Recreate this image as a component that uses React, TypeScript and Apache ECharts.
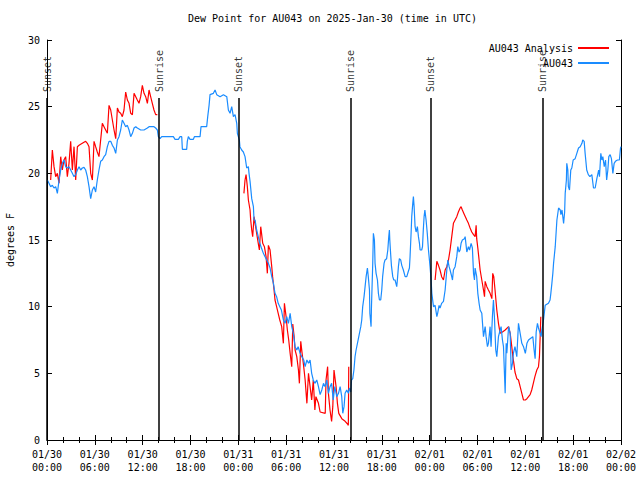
import React, { useEffect, useRef } from 'react';
import * as echarts from 'echarts';

const chartTitle = 'Dew Point for AU043 on 2025-Jan-30 (time in UTC)';
const yAxisName = 'degrees F';
const analysisName = 'AU043 Analysis';
const observedName = 'AU043';
const startUtc = Date.UTC(2025, 0, 30, 0, 0);

// Sunset / sunrise markers, hours since 01/30 00:00 UTC
const eventHours = [0.02, 14.06, 24.08, 38.12, 48.16, 62.14];
const eventNames = ['Sunset', 'Sunrise', 'Sunset', 'Sunrise', 'Sunset', 'Sunrise'];
const eventLineTop = 25.65;
const eventLabelBase = 26.1;

// AU043 Analysis (red), three night-time segments: [hour, dew point F]
const analysisNight1 = [
  [0.46, 19.5], [0.67, 21.75], [0.88, 20.5], [1.09, 19.75], [1.3, 20.0], [1.51, 19.25], [1.72, 21.25],
  [1.92, 20.25], [2.13, 21.0], [2.34, 21.25], [2.55, 19.75], [2.76, 20.75], [2.97, 22.4], [3.18, 20.25],
  [3.39, 22.0], [3.6, 19.5], [3.81, 22.0], [4.02, 22.1], [4.43, 22.25], [4.85, 22.4], [5.06, 22.25],
  [5.27, 22.0], [5.48, 20.0], [5.69, 19.5], [5.9, 22.4], [6.1, 22.0], [6.31, 21.6], [6.52, 21.25],
  [6.73, 22.5], [6.94, 23.75], [7.15, 23.5], [7.36, 23.25], [7.57, 23.0], [7.78, 25.1], [7.99, 24.75],
  [8.2, 24.0], [8.41, 23.25], [8.62, 22.6], [8.83, 24.9], [9.03, 24.6], [9.24, 24.5], [9.45, 24.25],
  [9.66, 24.75], [9.87, 26.1], [10.08, 25.5], [10.29, 25.25], [10.5, 24.5], [10.71, 24.4], [10.92, 26.0],
  [11.13, 25.75], [11.33, 25.5], [11.54, 25.25], [11.75, 25.75], [11.96, 26.6], [12.17, 26.0],
  [12.38, 25.75], [12.59, 25.25], [12.8, 26.25], [13.0, 25.75], [13.21, 25.25], [13.42, 24.75],
  [13.63, 24.4], [13.84, 24.4],
];
const analysisNight2 = [
  [24.7, 18.5], [24.84, 19.5], [24.97, 19.9], [25.13, 19.0], [25.26, 18.0], [25.47, 17.25], [25.55, 16.5],
  [25.68, 15.75], [25.8, 15.25], [25.97, 16.75], [26.1, 16.25], [26.3, 15.5], [26.5, 14.75], [26.64, 14.25],
  [26.81, 16.0], [26.93, 15.4], [27.06, 14.75], [27.27, 14.5], [27.48, 13.75], [27.64, 12.5], [27.77, 14.6],
  [27.98, 14.25], [28.19, 13.0], [28.3, 12.25], [28.48, 11.25], [28.6, 10.5], [28.8, 10.0], [29.0, 9.5],
  [29.2, 9.0], [29.44, 8.5], [29.65, 7.25], [29.78, 10.25], [29.99, 9.25], [30.15, 8.25], [30.32, 7.5],
  [30.5, 6.5], [30.7, 5.5], [30.83, 8.7], [31.0, 7.75], [31.12, 6.75], [31.33, 6.25], [31.54, 5.25],
  [31.66, 4.25], [31.83, 7.4], [32.0, 6.5], [32.2, 5.5], [32.38, 4.5], [32.6, 2.75], [32.8, 5.0],
  [33.0, 4.0], [33.2, 3.0], [33.4, 4.5], [33.6, 2.25], [33.73, 3.25], [34.05, 2.75], [34.26, 2.1],
  [34.9, 2.0], [35.0, 4.5], [35.2, 5.5], [35.3, 3.5], [35.5, 2.25], [35.7, 1.4], [35.85, 2.5], [36.0, 5.25],
  [36.26, 4.0], [36.43, 2.75], [36.6, 2.0], [36.98, 1.6], [37.4, 1.4], [37.7, 1.2], [37.8, 1.1], [37.85, 5.5],
];
const analysisNight3 = [
  [48.68, 12.0], [48.9, 13.4], [49.1, 13.1], [49.3, 12.75], [49.5, 12.25], [49.73, 12.0], [49.94, 12.75],
  [50.15, 13.0], [50.36, 13.5], [50.56, 14.25], [50.77, 15.25], [50.98, 16.25], [51.19, 16.5], [51.4, 16.75],
  [51.6, 17.1], [51.82, 17.4], [51.94, 17.5], [52.1, 17.25], [52.36, 16.9], [52.66, 16.5], [52.86, 16.25],
  [53.07, 15.9], [53.28, 15.6], [53.5, 15.4], [53.7, 15.25], [53.83, 16.1], [53.9, 15.1], [54.04, 14.4],
  [54.2, 13.5], [54.33, 12.75], [54.54, 12.0], [54.75, 11.25], [54.88, 10.75], [54.96, 11.9], [55.17, 11.5],
  [55.37, 11.25], [55.58, 11.0], [55.8, 10.6], [55.91, 12.5], [56.04, 12.25], [56.2, 11.25], [56.42, 9.75],
  [56.63, 8.75], [56.84, 8.0], [57.13, 8.1], [57.47, 8.25], [57.9, 8.5], [58.1, 8.0], [58.3, 7.0],
  [58.43, 6.25], [58.56, 5.75], [58.7, 5.1], [58.93, 4.6], [59.14, 4.5], [59.35, 4.0], [59.56, 3.5],
  [59.77, 3.0], [60.0, 3.0], [60.2, 3.1], [60.4, 3.25], [60.6, 3.4], [60.8, 3.75], [61.0, 4.25], [61.2, 4.75],
  [61.44, 5.25], [61.65, 5.5], [61.77, 6.25], [61.86, 7.75], [61.94, 9.25],
];

// AU043 observed (blue): [hour, dew point F]
const observedDay1 = [
  [0.04, 19.5], [0.25, 19.25], [0.46, 19.0], [0.67, 19.1], [0.88, 18.9], [1.09, 19.0], [1.3, 18.5],
  [1.51, 19.5], [1.72, 20.25], [1.92, 20.75], [2.13, 21.0], [2.34, 20.5], [2.55, 20.4], [2.76, 20.5],
  [2.97, 20.25], [3.18, 20.0], [3.39, 19.75], [3.6, 19.9], [3.81, 20.25], [4.02, 20.5], [4.22, 20.25],
  [4.43, 20.4], [4.64, 20.45], [4.85, 20.25], [5.06, 19.75], [5.27, 19.0], [5.48, 18.1], [5.69, 18.75],
  [5.9, 19.0], [6.1, 18.6], [6.31, 19.5], [6.52, 20.25], [6.73, 20.9], [6.94, 21.0], [7.15, 21.25],
  [7.36, 21.4], [7.57, 22.0], [7.78, 22.4], [7.99, 22.4], [8.2, 22.1], [8.41, 21.9], [8.62, 21.5],
  [8.83, 22.5], [9.03, 22.75], [9.24, 23.25], [9.45, 24.0], [9.66, 23.75], [9.87, 23.5], [10.08, 23.6],
  [10.29, 23.25], [10.5, 22.75], [10.71, 23.0], [10.92, 23.4], [11.13, 23.5], [11.33, 23.4], [11.75, 23.25],
  [12.17, 23.25], [12.59, 23.4], [12.8, 23.5], [13.0, 23.5], [13.42, 23.5], [13.63, 23.4], [13.84, 23.25],
  [13.97, 22.75], [14.18, 22.6], [14.39, 22.75], [15.23, 22.75], [15.85, 22.75], [16.06, 22.55],
  [16.48, 22.55], [16.69, 22.75], [16.9, 22.75], [16.98, 21.8], [17.52, 21.8], [17.6, 22.4], [17.73, 22.75],
  [17.94, 22.55], [18.36, 22.55], [18.49, 22.75], [19.2, 22.75], [19.32, 23.5], [20.03, 23.5],
  [20.16, 24.25], [20.33, 25.1], [20.45, 25.9], [20.87, 26.0], [21.08, 26.25], [21.29, 25.9],
  [21.71, 25.75], [22.13, 25.9], [22.55, 25.75], [22.75, 24.75], [22.96, 24.5], [23.17, 25.0],
  [23.38, 24.25], [23.59, 24.4], [23.8, 23.75],
];
const observedDay2 = [
  [23.88, 23.0], [24.13, 22.5], [24.2, 22.0], [24.42, 21.75], [24.63, 21.6], [24.84, 21.25], [25.05, 20.4],
  [25.26, 20.5], [25.34, 20.0], [25.47, 19.4], [25.68, 18.1], [25.89, 17.5], [25.97, 16.5], [26.1, 16.5],
  [26.3, 15.75], [26.5, 15.25], [26.7, 14.75], [26.9, 14.4], [27.14, 14.0], [27.35, 13.75], [27.56, 13.5],
  [27.77, 13.25], [27.98, 12.9], [28.19, 12.25], [28.4, 11.75], [28.6, 11.0], [28.8, 10.75], [29.0, 10.25],
  [29.2, 10.0], [29.4, 9.75], [29.65, 9.0], [29.86, 8.75], [30.07, 9.25], [30.28, 8.75], [30.5, 9.5],
  [30.7, 8.5], [30.9, 8.0], [31.12, 7.0], [31.33, 6.75], [31.5, 7.0], [31.75, 6.5], [31.96, 6.25],
  [32.2, 6.0], [32.38, 5.5], [32.6, 6.0], [32.8, 5.75], [33.0, 6.0], [33.2, 5.0], [33.4, 4.5], [33.6, 4.25],
  [33.84, 4.5], [34.05, 4.0], [34.26, 3.4], [34.47, 3.75], [34.68, 4.25], [34.89, 4.0], [35.1, 4.5],
  [35.3, 3.5], [35.5, 4.0], [35.7, 4.25], [35.9, 3.0], [36.1, 4.0], [36.35, 3.25], [36.56, 3.5],
  [36.77, 4.0], [36.97, 3.25], [37.1, 2.0], [37.26, 2.5], [37.39, 3.5], [37.6, 3.75], [37.8, 3.5],
  [37.93, 3.9], [38.1, 3.6], [38.2, 4.5], [38.35, 4.6], [38.5, 5.25], [38.64, 6.25], [38.77, 6.75],
  [38.94, 7.25], [39.06, 7.6], [39.19, 8.0], [39.36, 8.5], [39.48, 9.0], [39.6, 10.0], [39.77, 10.75],
  [39.9, 11.5], [40.03, 12.25], [40.19, 12.9], [40.3, 12.25], [40.45, 11.25], [40.5, 9.5], [40.65, 8.5],
  [40.7, 10.0], [40.86, 13.25], [40.94, 15.5], [41.07, 15.0], [41.15, 13.25], [41.28, 12.5], [41.45, 12.0],
  [41.57, 11.0], [41.7, 10.5], [41.86, 10.5], [41.99, 11.25], [42.1, 12.25], [42.28, 13.25], [42.4, 13.5],
  [42.6, 13.6], [42.75, 14.25], [42.87, 15.25], [42.95, 15.75], [43.0, 15.0], [43.1, 14.0], [43.2, 13.1],
  [43.37, 12.25], [43.5, 12.0], [43.66, 12.0], [43.87, 11.5], [43.95, 12.0], [44.08, 13.0], [44.2, 13.6],
  [44.37, 13.5], [44.5, 13.1], [44.7, 12.75], [44.92, 12.25], [45.13, 12.25], [45.3, 12.6], [45.46, 12.9],
  [45.54, 13.75], [45.67, 15.5], [45.75, 16.75], [45.88, 17.75], [45.96, 18.25], [46.05, 17.5],
  [46.17, 16.0], [46.3, 15.6], [46.46, 16.0], [46.59, 15.25], [46.72, 14.75], [46.8, 14.25], [47.0, 14.25],
  [47.1, 14.5], [47.2, 15.75], [47.3, 16.75], [47.4, 17.25], [47.55, 16.5], [47.7, 15.5], [47.85, 14.25],
];
const observedDay3 = [
  [48.05, 13.0], [48.18, 12.0], [48.27, 11.0], [48.48, 10.0], [48.68, 10.1], [48.9, 9.25], [49.0, 9.5],
  [49.18, 10.1], [49.3, 9.9], [49.5, 10.25], [49.73, 10.4], [49.94, 11.25], [50.15, 12.75], [50.28, 13.5],
  [50.44, 13.0], [50.56, 12.75], [50.77, 12.25], [50.86, 12.0], [50.98, 12.75], [51.19, 13.0], [51.4, 13.75],
  [51.53, 14.5], [51.69, 14.1], [51.82, 14.25], [51.94, 14.75], [52.1, 15.0], [52.36, 15.1], [52.45, 15.25],
  [52.66, 14.1], [52.86, 14.5], [53.0, 14.25], [53.2, 14.75], [53.36, 14.4], [53.5, 12.5], [53.62, 12.0],
  [53.7, 12.9], [53.9, 12.25], [54.04, 11.0], [54.2, 10.25], [54.33, 9.75], [54.54, 9.5], [54.75, 7.75],
  [54.96, 8.5], [55.08, 7.75], [55.25, 7.0], [55.37, 7.25], [55.58, 8.5], [55.7, 7.0], [55.87, 9.25],
  [56.0, 10.5], [56.12, 9.25], [56.29, 6.75], [56.42, 6.25], [56.63, 7.75], [56.84, 8.25], [56.96, 8.5],
  [57.13, 7.5], [57.26, 7.0], [57.47, 3.5], [57.6, 7.25], [57.68, 6.5], [57.9, 8.5], [58.1, 8.0],
  [58.22, 5.25], [58.39, 5.75], [58.5, 6.5], [58.7, 7.0], [58.93, 6.25], [59.14, 8.75], [59.35, 8.0],
  [59.56, 7.25], [59.77, 7.0], [60.0, 6.5], [60.2, 7.25], [60.4, 7.5], [60.6, 7.6], [60.94, 7.75],
  [61.1, 6.75], [61.23, 6.1], [61.36, 8.1], [61.52, 8.75], [61.65, 8.4], [61.86, 8.0], [61.98, 7.75],
  [62.07, 8.25], [62.28, 9.0], [62.49, 10.1], [62.9, 10.25], [63.1, 10.5], [63.2, 11.0], [63.33, 11.75],
  [63.45, 12.5], [63.54, 13.25], [63.75, 14.5], [63.96, 16.5], [64.17, 17.4], [64.38, 17.25], [64.46, 16.9],
  [64.6, 17.25], [64.7, 16.75], [64.8, 16.25], [64.93, 17.1], [65.0, 18.5], [65.15, 19.5], [65.2, 20.75],
  [65.33, 20.25], [65.4, 19.0], [65.54, 18.75], [65.7, 20.25], [65.83, 20.4], [66.0, 21.0], [66.25, 21.1],
  [66.46, 21.5], [66.67, 21.9], [66.88, 22.0], [67.1, 22.25], [67.2, 22.5], [67.38, 22.4], [67.5, 21.5],
  [67.7, 20.25], [67.9, 19.9], [68.1, 19.75], [68.34, 19.9], [68.55, 18.9], [68.76, 18.9], [68.97, 19.6],
  [69.2, 20.25], [69.3, 19.75], [69.47, 21.5], [69.6, 21.0], [69.72, 21.25], [69.9, 20.5], [70.06, 21.0],
  [70.2, 19.5], [70.35, 20.25], [70.47, 21.25], [70.64, 21.4], [70.8, 21.1], [70.98, 20.0], [71.14, 20.75],
  [71.3, 20.9], [71.56, 21.0], [71.8, 21.0], [71.94, 21.9], [72.0, 22.0],
];

const FONT = 'DejaVu Sans Mono';

function fmtHour(v: number) {
  const d = new Date(startUtc + v * 3600000);
  const p = (n: number) => String(n).padStart(2, '0');
  return `${p(d.getUTCMonth() + 1)}/${p(d.getUTCDate())}\n${p(d.getUTCHours())}:${p(d.getUTCMinutes())}`;
}

export default function App() {
  const ref = useRef<HTMLDivElement>(null);
  useEffect(() => {
    if (!ref.current) return;
    const chart = echarts.init(ref.current, null, { renderer: 'svg' });
    const gap = ['-', '-'];
    const analysisData = [...analysisNight1, gap, ...analysisNight2, gap, ...analysisNight3];
    const observedData = [...observedDay1, ...observedDay2, ...observedDay3];
    const xBase = {
      type: 'value', min: 0, max: 72, interval: 6,
      axisLine: { show: true, lineStyle: { color: '#000', width: 1 } },
      axisTick: { show: true, inside: true, length: 5, lineStyle: { color: '#000' } },
      minorTick: { show: true, splitNumber: 3, length: 3, lineStyle: { color: '#000' } },
      splitLine: { show: false },
      minorSplitLine: { show: false },
    };
    const yBase = {
      type: 'value', min: 0, max: 30, interval: 5,
      axisLine: { show: true, onZero: false, lineStyle: { color: '#000', width: 1 } },
      axisTick: { show: true, inside: true, length: 5, lineStyle: { color: '#000' } },
      splitLine: { show: false },
    };
    chart.setOption({
      animation: false,
      backgroundColor: '#fff',
      title: {
        text: chartTitle, left: 188, top: 13, padding: 0,
        textStyle: { fontFamily: FONT, fontSize: 10, fontWeight: 'normal', color: '#000' },
      },
      legend: {
        data: [analysisName, observedName], orient: 'vertical', align: 'right',
        right: 26, top: 37, itemWidth: 31, itemHeight: 2, itemGap: 3, icon: 'rect',
        selectedMode: false,
        textStyle: { fontFamily: FONT, fontSize: 10, color: '#000', lineHeight: 12 },
      },
      grid: { left: 47, right: 19, top: 40, bottom: 40, containLabel: false, outerBoundsMode: 'none' },
      xAxis: [
        {
          ...xBase, position: 'bottom',
          axisLabel: { show: true, formatter: fmtHour, fontFamily: FONT, fontSize: 10, color: '#000', lineHeight: 13, margin: 8 },
        },
        { ...xBase, position: 'top', axisLabel: { show: false } },
      ],
      yAxis: [
        {
          ...yBase, position: 'left', name: yAxisName, nameLocation: 'middle', nameGap: 32, nameRotate: 90,
          nameTextStyle: { fontFamily: FONT, fontSize: 10, color: '#000' },
          axisLabel: { show: true, fontFamily: FONT, fontSize: 10, color: '#000', margin: 7 },
        },
        { ...yBase, position: 'right', axisLabel: { show: false } },
      ],
      series: [
        {
          name: 'events', type: 'scatter', xAxisIndex: 0, yAxisIndex: 0,
          symbolSize: 1, itemStyle: { color: 'rgba(0,0,0,0)' }, silent: true,
          data: eventHours.map((h, i) => ({ value: [h, eventLabelBase], name: eventNames[i] })),
          label: {
            show: true, position: 'inside', formatter: '{b}', rotate: 90, align: 'left', verticalAlign: 'middle',
            fontFamily: FONT, fontSize: 10, color: '#000',
          },
          markLine: {
            silent: true, symbol: ['none', 'none'], label: { show: false },
            lineStyle: { color: '#000', width: 1.5, type: 'solid' },
            data: eventHours.map((h) => [{ coord: [h, 0] }, { coord: [h, eventLineTop] }]),
          },
        },
        {
          name: analysisName, type: 'line', data: analysisData, showSymbol: false, symbol: 'none',
          connectNulls: false, color: '#ff0000', lineStyle: { color: '#ff0000', width: 1.2 },
        },
        {
          name: observedName, type: 'line', data: observedData, showSymbol: false, symbol: 'none',
          color: '#1a8cff', lineStyle: { color: '#1a8cff', width: 1.2 },
        },
      ],
    });
    return () => chart.dispose();
  }, []);
  return <div ref={ref} style={{ position: 'fixed', left: 0, top: 0, width: 640, height: 480, background: '#fff' }} />;
}
